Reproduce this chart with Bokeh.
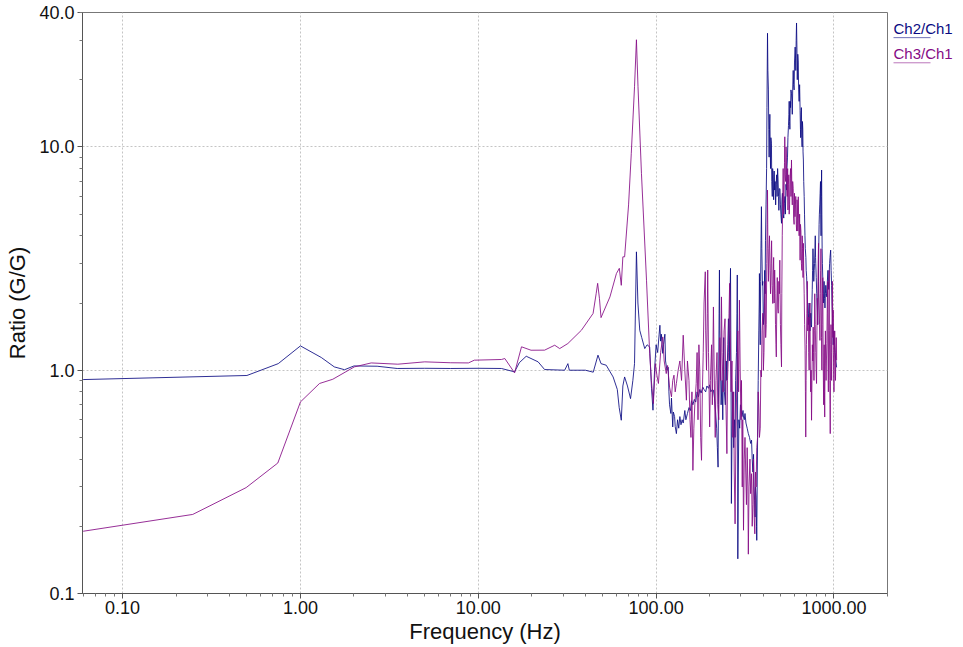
from bokeh.plotting import figure
from bokeh.layouts import row
from bokeh.models import FixedTicker, PrintfTickFormatter, Range1d
from bokeh.core.properties import value
from bokeh.embed import file_html
from bokeh.resources import INLINE

# ---- data ----
ch2_freq = [0.06, 0.5, 0.75, 1.0, 1.31, 1.55, 1.77, 2.0, 2.7, 3.5, 5.0, 7.0, 10, 13.5, 16.0, 17.0, 18.6,
            21.7, 23.6, 30.6, 31.9, 32.5, 40, 44.3, 47.1, 49.0, 52.4, 57.3, 60.5, 62.0, 63.7, 65.0, 66.5,
            69.0, 71.8, 74.0, 75.6, 77.5, 79.0, 80.9, 83, 86.3, 89, 92.0, 94.2,
            96, 98, 100, 102, 104, 105, 106, 107, 109, 110, 112, 113, 115, 117, 118, 119, 121, 122, 124, 125,
            127, 128, 130, 132, 134, 136, 138, 140, 142, 145, 147, 150, 153, 156, 158, 161, 164, 167, 170,
            173, 176, 179, 183, 186, 190, 193, 197, 200, 203, 207, 210, 213, 216, 219, 221, 223, 224, 225,
            226, 227, 228, 230, 232, 235, 237, 240, 242, 245, 248, 250, 253, 255, 258, 260, 262, 263, 264,
            265, 267, 270, 273, 276, 278, 280, 283, 285, 286, 287, 288, 290, 292, 295, 298, 300, 304, 308,
            310, 313, 316, 320, 325, 330, 335, 340, 344, 347, 350, 353, 355, 358, 360, 362, 365, 367, 368,
            370, 372, 375, 378, 380, 381, 383, 385, 387, 389, 391, 393, 396, 398, 401, 405, 408, 410, 412,
            415, 418, 420, 423, 425, 428, 430, 432, 434, 436, 438, 440, 442, 445, 447, 450, 452, 455, 458,
            461, 464, 467, 470, 473, 476, 479, 482, 485, 488, 490, 493, 497, 500, 503, 507, 510, 513, 515,
            518, 522, 526, 530, 533, 537, 541, 544, 548, 551, 555, 558, 560, 563, 565, 568, 570, 573, 577,
            580, 583, 586, 590, 593, 597, 600, 605, 608, 610, 613, 616, 619, 622, 626, 630, 633, 637, 641,
            645, 648, 650, 653, 656, 659, 662, 665, 668, 670, 673, 676, 680, 683, 687, 690, 695, 698, 702,
            706, 710, 714, 718, 721, 725, 729, 733, 736, 740, 744, 748, 751, 755, 758, 762, 766, 770, 774,
            778, 782, 785, 788, 790, 795, 800, 805, 810, 814, 818, 821, 825, 828, 832, 836, 840, 843, 846,
            849, 852, 855, 858, 861, 865, 868, 872, 876, 880, 885, 890, 895, 900, 906, 912, 918, 925, 930,
            935, 940, 945, 950, 958, 964, 970, 975, 980, 985, 990, 995, 1000, 1008, 1015, 1025, 1035]
ch2_ratio = [0.908, 0.947, 1.07, 1.285, 1.14, 1.035, 1.005, 1.045, 1.042, 1.018, 1.02, 1.018, 1.02, 1.018,
             0.983, 1.08, 1.155, 1.09, 1.007, 1.0, 1.07, 1.0, 1.0, 0.98, 1.168, 1.07, 1.053, 0.933, 0.82,
             0.68, 0.597, 0.85, 0.933, 0.85, 0.746, 0.9, 1.07, 3.39, 2.0, 1.51, 1.4, 1.25, 1.3, 1.27, 0.83,
             0.662, 1.0, 1.3, 1.2, 1.45, 1.59, 1.35, 1.45, 1.19, 1.3, 1.45, 1.1, 1.0, 1.03, 0.8, 0.7, 0.64,
             0.75, 0.557, 0.65, 0.62, 0.56, 0.52, 0.6, 0.55, 0.62, 0.57, 0.6, 0.58, 0.66, 0.6, 0.64, 0.68,
             0.66, 0.73, 0.7, 0.74, 0.72, 0.8, 0.76, 0.82, 0.79, 0.84, 0.82, 0.8, 0.85, 0.83, 0.86, 0.8,
             0.82, 0.814, 0.75, 0.65, 0.55, 0.45, 0.368, 0.7, 1.0, 1.8, 2.81, 1.5, 1.1, 0.7, 0.9, 0.6, 1.4,
             0.8, 0.7, 1.1, 0.9, 1.3, 1.7, 1.1, 2.0, 2.86, 1.5, 0.8, 0.253, 0.5, 0.8, 0.45, 0.6, 0.5, 0.9,
             1.2, 1.8, 2.67, 0.8, 0.143, 0.35, 0.6, 0.55, 0.7, 0.68, 0.62, 0.66, 0.617, 0.6, 0.64, 0.58,
             0.55, 0.52, 0.5, 0.47, 0.486, 0.4, 0.35, 0.42, 0.3, 0.26, 0.22, 0.3, 0.27, 0.2, 0.173, 0.3,
             0.5, 0.9, 1.5, 2.0, 2.71, 1.8, 1.3, 2.5, 3.8, 5.4, 3.5, 2.4, 2.5, 1.6, 1.8, 2.8, 2.2, 3.8, 5.5,
             8.0, 15.0, 32.3, 22.0, 18.0, 12.0, 9.0, 12.0, 14.0, 10.0, 8.0, 11.0, 10.4, 7.0, 6.0, 8.0, 7.5,
             5.8, 7.8, 6.41, 7.0, 5.5, 6.8, 7.5, 6.0, 8.0, 7.11, 6.0, 5.2, 6.5, 6.5, 5.5, 5.0, 4.55, 5.8,
             6.2, 5.5, 5.0, 4.8, 5.6, 6.0, 5.0, 6.8, 6.41, 8.0, 9.0, 11.0, 12.5, 14.0, 16.0, 13.0, 12.0,
             16.0, 15.0, 18.0, 17.4, 16.0, 14.0, 18.0, 22.0, 19.0, 18.0, 24.0, 28.0, 25.0, 22.0, 30.0, 35.9,
             28.0, 20.0, 26.0, 24.0, 18.0, 16.0, 19.0, 14.6, 12.0, 11.0, 14.0, 15.0, 11.0, 10.0, 13.0, 12.0,
             9.5, 8.74, 7.0, 6.0, 5.0, 4.0, 3.5, 3.2, 2.8, 2.62, 2.3, 2.0, 1.8, 1.6, 1.8, 2.0, 1.7, 1.5,
             1.7, 1.8, 1.6, 1.56, 1.9, 2.3, 2.8, 3.5, 3.0, 2.5, 2.8, 3.0, 3.5, 4.0, 3.2, 3.0, 2.6, 2.2, 1.9,
             1.6, 2.0, 2.5, 3.5, 4.5, 5.0, 5.5, 6.2, 7.0, 5.0, 4.0, 6.0, 7.88, 5.0, 3.5, 3.0, 2.6, 2.3, 2.0,
             2.2, 2.5, 2.1, 1.9, 2.2, 2.4, 2.2, 2.13, 2.5, 2.8, 2.5, 2.3, 2.7, 3.0, 3.2, 3.45, 2.8, 2.4,
             2.0, 1.8, 1.5, 1.3, 1.4, 1.5, 1.3, 1.2, 1.1, 1.03]

ch3_freq = [0.06, 0.248, 0.495, 0.746, 1.0, 1.28, 1.52, 2.01, 2.5, 3.53, 5.0, 7.0, 8.8, 9.5, 13.5, 14.1, 16.0,
            17.5, 19.8, 23.6, 26.9, 28.7, 31.9, 38.0, 44.2, 46.0, 46.9, 48.0, 49.0, 55, 59.8, 62.1, 63.7, 65,
            66.5, 70, 72.5, 75.6, 77.5, 79.1, 82.7, 88.3,
            92, 94, 96.5, 99, 101, 103, 106, 109, 111, 114, 116, 119, 122, 124, 126, 128, 130, 133, 136, 139,
            142, 145, 148, 150, 153, 155, 157, 159, 161, 163, 165, 168, 170, 172, 174, 176, 178, 180, 182,
            184, 186, 189, 190, 192, 194, 195, 197, 200, 202, 205, 207, 210, 212, 215, 217, 220, 222, 225,
            228, 231, 233, 235, 238, 241, 244, 247, 250, 252, 255, 257, 259, 261, 264, 267, 270, 273, 275,
            278, 281, 285, 288, 291, 294, 297, 300, 302, 305, 307, 310, 313, 316, 319, 322, 325, 328, 330,
            333, 337, 340, 344, 347, 350, 353, 356, 359, 362, 365, 368, 372, 375, 378, 381, 385, 388, 391,
            394, 398, 401, 404, 407, 410, 413, 416, 419, 421, 423, 425, 428, 431, 434, 437, 440, 443, 446,
            449, 453, 456, 458, 461, 464, 467, 469, 472, 474, 477, 480, 483, 486, 490, 493, 496, 498, 500,
            503, 507, 509, 512, 515, 518, 521, 524, 527, 529, 532, 535, 538, 540, 543, 546, 549, 551, 554,
            557, 560, 563, 566, 570, 573, 577, 580, 583, 586, 590, 593, 597, 600, 604, 607, 610, 614, 617,
            620, 623, 626, 630, 633, 637, 641, 645, 648, 652, 656, 660, 663, 666, 670, 673, 676, 680, 684,
            688, 691, 694, 697, 700, 704, 708, 712, 717, 721, 725, 729, 733, 736, 740, 744, 748, 752, 756,
            760, 764, 768, 772, 776, 780, 785, 790, 794, 798, 802, 806, 810, 815, 819, 822, 826, 830, 834,
            838, 842, 845, 848, 851, 855, 858, 861, 865, 868, 871, 875, 878, 881, 884, 887, 890, 895, 899,
            903, 907, 912, 916, 920, 924, 927, 930, 934, 937, 940, 943, 947, 950, 953, 956, 959, 962, 966,
            970, 974, 977, 980, 984, 987, 990, 993, 996, 1000, 1004, 1010, 1015, 1020, 1025, 1030, 1035]
ch3_ratio = [0.19, 0.226, 0.298, 0.384, 0.721, 0.872, 0.911, 1.035, 1.078, 1.064, 1.09, 1.08, 1.078, 1.109,
             1.117, 1.128, 0.973, 1.273, 1.229, 1.23, 1.294, 1.25, 1.317, 1.51, 1.795, 2.2, 2.45, 2.1, 1.72,
             2.13, 2.71, 2.86, 2.4, 3.22, 3.22, 5.5, 9.37, 18.6, 30.2, 18.6, 7.62, 2.53,
             1.19, 0.9, 0.709, 1.07, 0.95, 0.872, 1.2, 1.41, 1.1, 0.966, 1.05, 0.84, 0.76, 0.9, 0.95, 0.8,
             0.872, 1.0, 1.1, 0.9, 1.435, 1.0, 0.734, 1.1, 0.9, 0.6, 0.5, 0.8, 0.356, 0.55, 0.7, 0.872, 1.2,
             0.6, 1.3, 1.0, 0.5, 0.395, 0.8, 1.2, 2.0, 2.76, 1.5, 1.0, 1.8, 2.81, 1.2, 0.557, 0.9, 1.3, 0.7,
             1.92, 1.0, 0.5, 0.9, 1.2, 0.7, 0.6, 1.4, 0.9, 2.13, 1.2, 0.8, 1.5, 1.7, 0.7, 0.423, 0.9, 1.2,
             1.8, 2.45, 1.5, 0.8, 1.1, 0.5, 0.8, 0.35, 0.205, 0.5, 1.0, 1.5, 0.8, 2.06, 1.0, 0.6, 0.9, 0.3,
             0.6, 0.192, 0.4, 0.5, 0.35, 0.25, 0.45, 0.3, 0.15, 0.3, 0.4, 0.28, 0.344, 0.2, 0.25, 0.4, 0.22,
             0.185, 0.35, 0.3, 0.45, 0.5, 0.8, 0.685, 0.5, 0.55, 1.0, 0.933, 1.5, 1.8, 1.0, 1.2, 2.0, 2.5,
             1.4, 1.6, 3.0, 4.5, 6.41, 3.5, 2.5, 3.5, 4.0, 2.8, 2.2, 3.0, 3.8, 2.4, 1.99, 2.8, 3.2, 2.0,
             2.81, 2.2, 1.6, 1.3, 1.147, 2.0, 2.6, 1.9, 1.8, 2.5, 2.2, 3.11, 2.2, 1.6, 1.3, 1.035, 2.2, 4.0,
             5.5, 8.0, 5.0, 6.0, 8.5, 11.1, 7.5, 7.0, 10.0, 9.0, 6.5, 6.0, 8.0, 5.22, 6.8, 7.5, 5.0, 5.5,
             7.2, 8.0, 6.0, 8.74, 6.2, 5.5, 7.0, 6.5, 4.8, 4.5, 6.2, 4.87, 5.5, 6.0, 4.5, 4.2, 5.8, 5.5, 4.2,
             5.98, 4.8, 4.0, 5.0, 3.11, 4.5, 4.2, 3.0, 2.8, 4.0, 3.5, 2.6, 3.7, 2.8, 2.2, 1.6, 1.23, 0.8,
             0.502, 0.9, 1.3, 1.8, 2.5, 1.5, 1.73, 1.2, 1.0, 1.6, 2.0, 1.1, 0.8, 1.0, 0.597, 0.9, 1.3, 1.1,
             1.56, 1.2, 0.9, 1.5, 2.2, 1.6, 1.2, 1.0, 0.872, 1.5, 2.1, 1.6, 3.0, 3.7, 2.2, 1.9, 1.6, 1.36,
             2.2, 2.8, 3.5, 2.0, 1.4, 1.0, 1.6, 2.2, 2.6, 1.5, 1.0, 0.7, 0.9, 1.3, 0.8, 0.617, 1.0, 1.5,
             1.1, 0.9, 1.1, 1.317, 1.8, 2.5, 1.5, 1.0, 0.8, 1.5, 2.0, 2.8, 1.5, 0.9, 0.7, 0.52, 0.9, 1.3,
             1.6, 1.2, 0.9, 1.4, 2.0, 2.5, 1.6, 1.4, 1.86, 1.2, 1.0, 0.8, 1.1, 1.5, 1.1, 0.9, 1.2, 1.4,
             1.109]

x_major = [0.1, 1.0, 10.0, 100.0, 1000.0]
y_major = [0.1, 1.0, 10.0, 40.0]
series_names = ["Ch2/Ch1", "Ch3/Ch1"]
series_colors = ["#0a0a82", "#850a85"]
underline_colors = ["#7070b8", "#bb77bb"]

FONT = "Liberation Sans"
MAIN_W, H, TOTAL_W = 890, 647, 963

p = figure(width=MAIN_W, height=H, x_axis_type="log", y_axis_type="log",
           x_range=Range1d(0.0595, 2000), y_range=Range1d(0.1, 40),
           output_backend="svg", toolbar_location=None,
           min_border_left=82, min_border_right=3, min_border_top=12, min_border_bottom=54)
p.background_fill_color = "white"
p.border_fill_color = "white"
p.outline_line_color = "#777777"
p.outline_line_width = 1

p.line(ch2_freq, ch2_ratio, line_color=series_colors[0], line_width=1, line_alpha=0.85)
p.line(ch3_freq, ch3_ratio, line_color=series_colors[1], line_width=1, line_alpha=0.85)

minor_x = [m * 10.0 ** e for e in range(-2, 4) for m in range(2, 10)]
minor_y = [m * 10.0 ** e for e in range(-1, 2) for m in range(2, 10)]
p.xaxis.ticker = FixedTicker(ticks=x_major, minor_ticks=minor_x)
p.yaxis.ticker = FixedTicker(ticks=y_major, minor_ticks=minor_y)
p.xaxis.formatter = PrintfTickFormatter(format="%.2f")
p.yaxis.formatter = PrintfTickFormatter(format="%.1f")

for ax in (p.xaxis[0], p.yaxis[0]):
    ax.axis_line_color = "#555555"
    ax.major_tick_line_color = "#555555"
    ax.minor_tick_line_color = "#777777"
    ax.major_tick_out = 5
    ax.major_tick_in = 0
    ax.minor_tick_out = 3
    ax.minor_tick_in = 0
    ax.major_label_text_font = FONT
    ax.major_label_text_font_size = "18px"
    ax.major_label_text_color = "#111111"
    ax.axis_label_text_font = FONT
    ax.axis_label_text_font_size = "22px"
    ax.axis_label_text_font_style = "normal"
    ax.axis_label_text_color = "#111111"

p.xaxis.axis_label = "Frequency (Hz)"
p.yaxis.axis_label = "Ratio (G/G)"
p.xaxis.major_label_standoff = 2
p.xaxis.axis_label_standoff = 2
p.yaxis.major_label_standoff = 3
p.yaxis.axis_label_standoff = 6

p.xgrid.ticker = FixedTicker(ticks=x_major)
p.ygrid.ticker = FixedTicker(ticks=y_major)
for g in (p.xgrid[0], p.ygrid[0]):
    g.grid_line_color = "#c4c4c4"
    g.grid_line_dash = "2 2"
    g.grid_line_width = 1

# side panel holding the legend (text with underline), in pixel-like coordinates
side = figure(width=TOTAL_W - MAIN_W, height=H, x_range=Range1d(0, TOTAL_W - MAIN_W),
              y_range=Range1d(H, 0), output_backend="svg", toolbar_location=None,
              x_axis_location=None, y_axis_location=None,
              min_border_left=0, min_border_right=0, min_border_top=0, min_border_bottom=0)
side.outline_line_color = None
side.xgrid.visible = False
side.ygrid.visible = False
side.border_fill_color = "white"
side.background_fill_color = "white"

leg_x = [3, 3]
leg_y = [18, 46]
side.text(x=leg_x, y=leg_y, text=series_names, text_color=series_colors,
          text_font=value(FONT), text_font_size="15px", text_baseline="middle", text_align="left")
side.segment(x0=leg_x, y0=[y + 10 for y in leg_y], x1=[x + 37 for x in leg_x],
             y1=[y + 10 for y in leg_y], line_color=underline_colors, line_width=1)

layout = row(p, side)
open("out.html", "w").write(file_html(layout, INLINE))
